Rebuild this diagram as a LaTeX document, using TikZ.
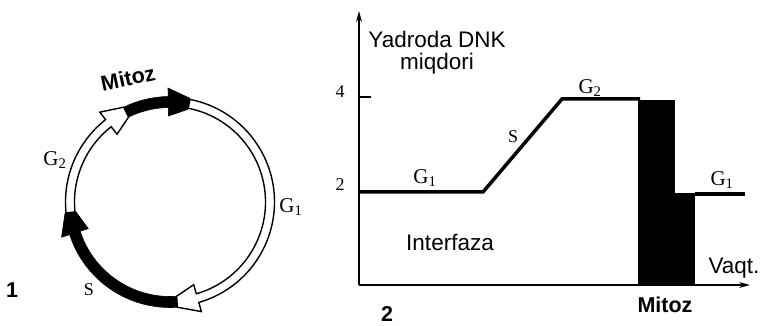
\documentclass[tikz,border=0pt]{standalone}
\usepackage{fontspec}
\setmainfont{Liberation Serif}
\setsansfont{Liberation Sans}
\usetikzlibrary{arrows.meta}

% one band of the cycle ring, clockwise from #1 to #2 (degrees)
\newcommand{\phasearc}[4]{%
  \pgfmathsetmacro\headang{#2+12}
  \pgfmathsetmacro\bandout{100+#3}
  \pgfmathsetmacro\bandin{100-#3}
  \draw[#4] (#1:\bandout pt) arc[start angle=#1, end angle=\headang, radius=\bandout pt]
    -- (\headang:114pt) -- (#2:105.5pt) -- (#2:94.5pt) -- (\headang:86pt)
    -- (\headang:\bandin pt) arc[start angle=\headang, end angle=#1, radius=\bandin pt] -- cycle;
}

\begin{document}
\begin{tikzpicture}[x=1pt, y=1pt,
  whiteband/.style={draw=black, fill=white, line width=1.4pt, line join=miter},
  blackband/.style={draw=black, fill=black, line width=0.6pt},
  sanslabel/.style={font=\sffamily\fontsize{22.5}{22}\selectfont, inner sep=0pt},
  boldlabel/.style={font=\sffamily\bfseries\fontsize{21.5}{22}\selectfont, inner sep=0pt},
  phaselabel/.style={font=\fontsize{21}{22}\selectfont, inner sep=0pt},
  numlabel/.style={font=\fontsize{18}{20}\selectfont, inner sep=0pt},
  axisline/.style={line width=1.3pt, -{Stealth[length=11pt, width=6pt]}},
  dnkline/.style={line width=3.5pt, line join=miter}]

\useasboundingbox (0,0) rectangle (762,326);

% ---- 1: the cycle ring
\begin{scope}[shift={(170,124)}]
  \phasearc{79}{-86}{4.5}{whiteband}
  \phasearc{-174}{-244}{4.5}{whiteband}
  \phasearc{116}{79}{5.5}{blackband}
  \phasearc{-86}{-174}{5.5}{blackband}
\end{scope}

\node[boldlabel, rotate=12] (mitozring) at (128,248) {Mitoz};
\node[phaselabel] (g2ring) at (55,166) {G\textsubscript{2}};
\node[phaselabel] (g1ring) at (291,119) {G\textsubscript{1}};
\node[numlabel] (sring) at (89,36) {S};
\node[boldlabel] (fig1) at (12,36) {1};

% ---- 2: DNA content graph
\coordinate (orig) at (359,41);
\coordinate (ytip) at (359,315);
\coordinate (xtip) at (750,41);
\coordinate (tick4) at (371,229);
\coordinate (g1s) at (359,134);
\coordinate (g1e) at (483,134);
\coordinate (g2s) at (562,227);
\coordinate (g2e) at (640,227);
\coordinate (g1rs) at (695,132);
\coordinate (g1re) at (745,132);

\fill (638,41) rectangle (675,226);
\fill (675,41) rectangle (695,133);

\draw[axisline] (orig) -- (ytip);
\draw[axisline] (orig) -- (xtip);
\draw[line width=1.3pt] (orig |- tick4) -- (tick4);
\draw[dnkline] (g1s) -- (g1e) -- (g2s) -- (g2e);
\draw[dnkline] (g1rs) -- (g1re);

\node[sanslabel, align=center] (dnk) at (437,273) {Yadroda DNK\\miqdori};
\node[numlabel] (four) at (340,234) {4};
\node[numlabel] (two) at (340,141) {2};
\node[phaselabel] (g1graph) at (425,148) {G\textsubscript{1}};
\node[numlabel] (sgraph) at (513,189) {S};
\node[phaselabel] (g2graph) at (590,238) {G\textsubscript{2}};
\node[phaselabel] (g1right) at (722,146) {G\textsubscript{1}};
\node[sanslabel] (interfaza) at (450,84) {Interfaza};
\node[sanslabel] (vaqt) at (734,58) {Vaqt.};
\node[boldlabel] (mitozgraph) at (665,21) {Mitoz};
\node[boldlabel] (fig2) at (387,12) {2};
\end{tikzpicture}
\end{document}
